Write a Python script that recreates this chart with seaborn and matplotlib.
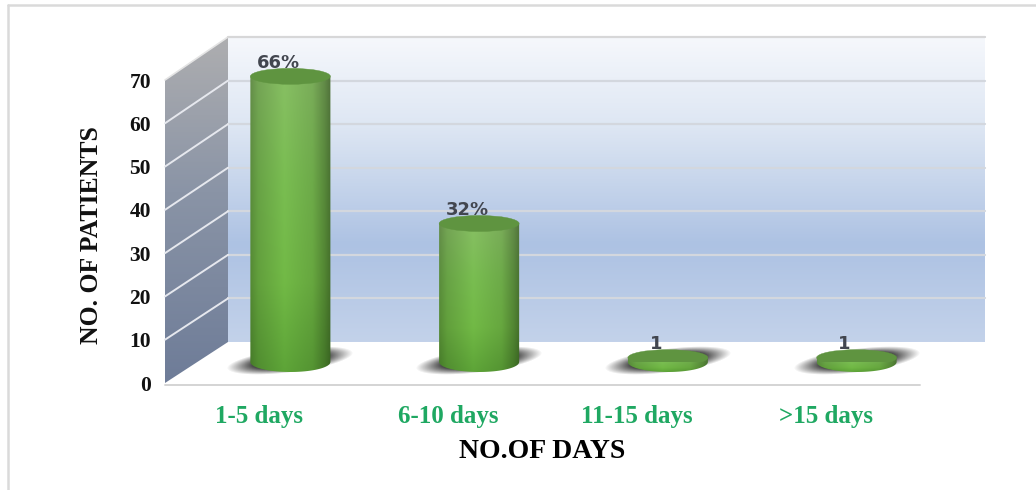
import numpy as np
import pandas as pd
import matplotlib
matplotlib.use("Agg")
import matplotlib.pyplot as plt
from matplotlib.colors import LinearSegmentedColormap
from matplotlib.lines import Line2D
from matplotlib.patches import Ellipse, Polygon
from matplotlib.path import Path
import seaborn as sns

# Patient counts by length of stay
day_groups = ["1-5 days", "6-10 days", "11-15 days", ">15 days"]
patients = [66, 32, 1, 1]
bar_labels = ["66%", "32%", "1", "1"]
y_ticks = [0, 10, 20, 30, 40, 50, 60, 70]

W, H = 1036, 490
FRONT = (165, 920, 383, 80)   # left, right, bottom, top of the floor-front plane, in pixels
BAR_SHIFT = (31, -21)         # depth offset of the bars
BACK_LEFT, BACK_RIGHT, BACK_BOTTOM, BACK_TOP = 228, 985, 342, 37
BAR_WIDTH = 0.424
SERIF = "Liberation Serif"

sns.set_theme(style="white")
fig = plt.figure(figsize=(W / 100, H / 100), dpi=100, facecolor="white")


def axes_box(left, right, bottom, top):
    return [left / W, 1 - bottom / H, (right - left) / W, (bottom - top) / H]


# Backdrop layer, in pixel coordinates
bg = fig.add_axes([0, 0, 1, 1], zorder=0)
bg.set_xlim(0, W)
bg.set_ylim(H, 0)
bg.axis("off")

for xs, ys in [((8, 8), (5, H)), ((8, W), (5, 5))]:
    bg.add_line(Line2D(xs, ys, color="#dadada", lw=1.8))

left, right, bottom, top = FRONT

# Back wall gradient
wall_cmap = LinearSegmentedColormap.from_list(
    "wall", [(0, "#f6f8fc"), (0.3, "#dde6f3"), (0.68, "#adc2e3"), (1, "#c3d2ea")])
bg.imshow(np.linspace(0, 1, 256)[:, None], cmap=wall_cmap, aspect="auto", zorder=1,
          extent=(BACK_LEFT, BACK_RIGHT, BACK_BOTTOM, BACK_TOP))

# Side wall gradient, clipped to its parallelogram
side_cmap = LinearSegmentedColormap.from_list(
    "side", [(0, "#aeaeb0"), (0.45, "#8a94a6"), (1, "#6e7c98")])
side_img = bg.imshow(np.linspace(0, 1, 256)[:, None], cmap=side_cmap, aspect="auto", zorder=1,
                     extent=(left, BACK_LEFT, bottom, BACK_TOP))
side_poly = Polygon([(left, top), (BACK_LEFT, BACK_TOP), (BACK_LEFT, BACK_BOTTOM), (left, bottom)],
                    closed=True, fc="none", ec="none", transform=bg.transData)
bg.add_patch(side_poly)
side_img.set_clip_path(side_poly)
bg.set_xlim(0, W)
bg.set_ylim(H, 0)

# Gridlines on both walls
n_steps = len(y_ticks) - 1
for i in range(1, n_steps + 1):
    y_front = bottom + (top - bottom) * i / n_steps
    y_back = BACK_BOTTOM + (BACK_TOP - BACK_BOTTOM) * i / n_steps
    bg.add_line(Line2D((BACK_LEFT, BACK_RIGHT), (y_back, y_back), color="#d3d7de", lw=1.6, zorder=2))
    y_rear = BACK_BOTTOM + (BACK_TOP - BACK_BOTTOM) * i / n_steps
    if i < n_steps:
        bg.add_line(Line2D((left, BACK_LEFT), (y_front, y_rear), color="#e6e8ee", lw=1.4, zorder=2))
bg.add_line(Line2D((left, BACK_LEFT), (top, BACK_TOP), color="#e4e4e4", lw=1.2, zorder=2))
bg.add_line(Line2D((BACK_LEFT, BACK_RIGHT), (BACK_TOP, BACK_TOP), color="#d8d8d8", lw=1.4, zorder=2))
bg.add_line(Line2D((left, right), (bottom + 2, bottom + 2), color="#d4d4d4", lw=1.4, zorder=2))

# Front plane: carries the axis ticks and labels
front = fig.add_axes(axes_box(left, right, bottom, top), zorder=3, facecolor="none")
# Bar plane: same scales, pushed back into the depth of the box
bars = fig.add_axes(axes_box(left + BAR_SHIFT[0], right + BAR_SHIFT[0],
                             bottom + BAR_SHIFT[1], top + BAR_SHIFT[1]),
                    zorder=2, facecolor="none")

data = pd.DataFrame({"days": day_groups, "patients": patients})
sns.barplot(data=data, x="days", y="patients", ax=bars, width=BAR_WIDTH,
            color="#6aaa45", saturation=1)
bars.set_xlim(-0.5, len(day_groups) - 0.5)
bars.set_ylim(0, 70)
bars.axis("off")

px_per_unit = (bottom - top) / 70
px_per_cat = (right - left) / len(day_groups)
BASE_RY = 10 / px_per_unit
TOP_RY = 8 / px_per_unit


def cylinder_shading():
    # Horizontal roll-off across the cylinder combined with a vertical tone change
    u = np.linspace(-1, 1, 160)
    roll = np.interp(u, [-1, -0.8, -0.15, 0.55, 0.85, 1], [0.74, 0.86, 1.0, 0.90, 0.72, 0.6])
    v = np.linspace(0, 1, 200)
    stops = np.array([[136, 192, 100], [122, 190, 82], [114, 186, 70], [94, 165, 56]], float)
    tone = np.stack([np.interp(v, [0, 0.35, 0.7, 1], stops[:, k]) for k in range(3)], axis=1)
    img = tone[:, None, :] * roll[None, :, None]
    return np.clip(img, 0, 255).astype(np.uint8)


def soft_shadow(cx, cy):
    # Tilted blurred ellipse cast on the floor behind a cylinder base
    xs = np.arange(cx - 85, cx + 85)
    ys = np.arange(cy - 25, cy + 25)
    gx, gy = np.meshgrid(xs, ys)
    ang = np.deg2rad(7)
    rx = (gx - cx) * np.cos(ang) - (gy - cy) * np.sin(ang)
    ry = (gx - cx) * np.sin(ang) + (gy - cy) * np.cos(ang)
    d = np.sqrt((rx / 64) ** 2 + (ry / 12) ** 2)
    alpha = np.clip((1.0 - d) / 0.4, 0, 1) * 0.88
    rgba = np.zeros(gx.shape + (4,))
    rgba[..., :3] = 0.2
    rgba[..., 3] = alpha
    bg.imshow(rgba, extent=(xs[0], xs[-1], ys[-1], ys[0]), aspect="auto", zorder=2.5)


shading = cylinder_shading()
for patch, text in zip(bars.patches, bar_labels):
    x0, w, h = patch.get_x(), patch.get_width(), patch.get_height()
    xc = x0 + w / 2
    soft_shadow(left + BAR_SHIFT[0] + (xc + 0.5) * px_per_cat, bottom + BAR_SHIFT[1] - 1)

    # Cylinder wall: flat sides with a rounded lower edge
    t = np.linspace(np.pi, 2 * np.pi, 40)
    arc = np.column_stack([xc + w / 2 * np.cos(t), BASE_RY * np.sin(t)])
    body = Path(np.vstack([[x0, h], arc, [x0 + w, h], [x0, h]]))
    patch.set_visible(False)
    im = bars.imshow(shading, extent=(x0, x0 + w, -BASE_RY, h), aspect="auto", zorder=3)
    im.set_clip_box(fig.bbox)
    im.set_clip_path(body, transform=bars.transData)

    # Cylinder cap
    bars.add_patch(Ellipse((xc, h), w, 2 * TOP_RY, fc="#5f9440", ec="#5f9440", lw=0.3, zorder=4))

    bars.annotate(text, xy=(xc, h), xytext=(-12 / 1.389, 13.5 / 1.389), textcoords="offset points",
                  ha="center", va="center", fontsize=13, fontweight="bold", color="#42464f",
                  fontfamily="DejaVu Sans", zorder=5, annotation_clip=False)
bars.set_xlim(-0.5, len(day_groups) - 0.5)
bars.set_ylim(0, 70)

# Axis ticks and titles
front.set_xlim(-0.5, len(day_groups) - 0.5)
front.set_ylim(0, 70)
front.set_xticks(range(len(day_groups)), day_groups)
front.set_yticks(y_ticks, [str(v) for v in y_ticks])
front.tick_params(axis="x", length=0, pad=15.5, labelcolor="#1fa862", labelsize=18)
front.tick_params(axis="y", length=0, pad=10, labelcolor="#111111", labelsize=15.5)
for lab in front.get_xticklabels() + front.get_yticklabels():
    lab.set_fontfamily(SERIF)
    lab.set_fontweight("bold")
front.set_xlabel("NO.OF DAYS", fontfamily=SERIF, fontweight="bold", fontsize=20,
                 color="black", labelpad=8)
front.set_ylabel("NO. OF PATIENTS", fontfamily=SERIF, fontweight="bold", fontsize=18.5,
                 color="#111111")
front.yaxis.set_label_coords((103 - left) / (right - left), (bottom - 235) / (bottom - top))
sns.despine(ax=front, left=True, bottom=True, top=True, right=True)
front.grid(False)

fig.savefig("out.png", dpi=100, facecolor="white")
